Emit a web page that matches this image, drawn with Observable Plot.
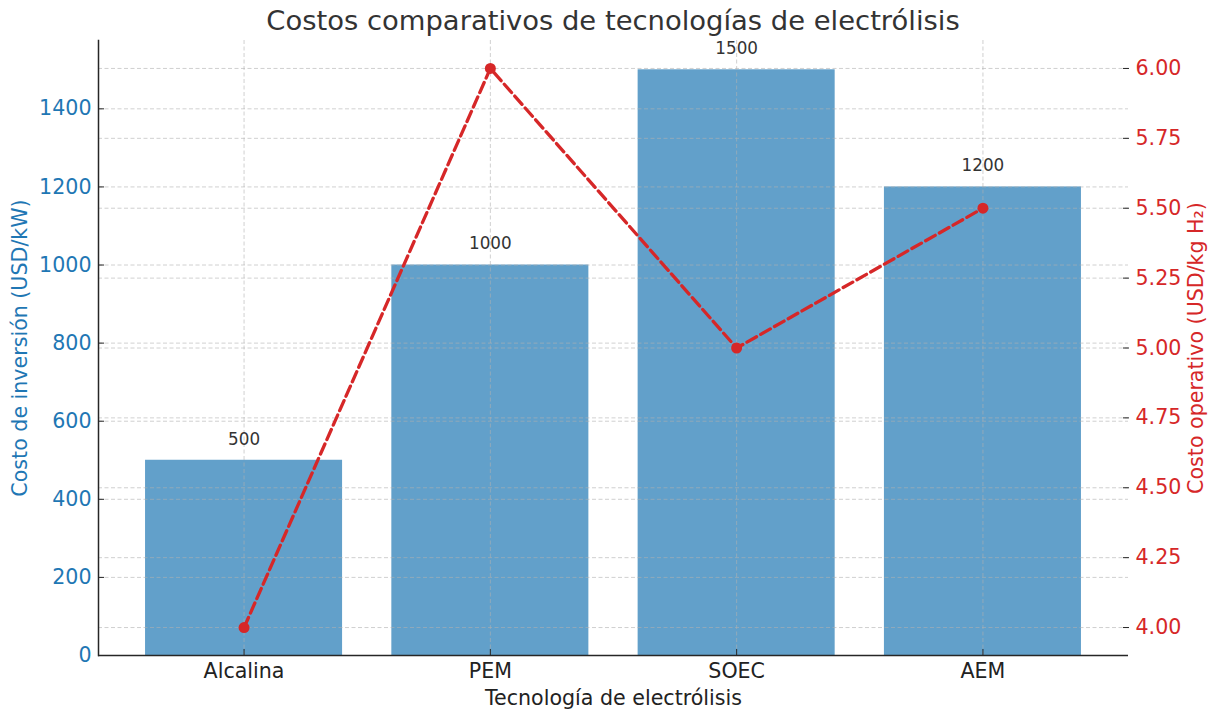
<!DOCTYPE html>
<html><head><meta charset="utf-8">
<script src="https://cdn.jsdelivr.net/npm/d3@7"></script>
<script src="https://cdn.jsdelivr.net/npm/@observablehq/plot@0.6"></script>
<style>
body{margin:0;background:#fff;font-family:"DejaVu Sans",sans-serif;}
#title{height:40px;width:1226px;text-align:center;font-size:27.4px;color:#333;line-height:42px;}
</style></head><body>
<div id="title">Costos comparativos de tecnologías de electrólisis</div>
<div id="chart"></div>
<script>
const categories = ["Alcalina","PEM","SOEC","AEM"];
const investment = [500,1000,1500,1200];
const opCost = [4.0,6.0,5.0,5.5];
const leftTicks = [0,200,400,600,800,1000,1200,1400];
const rightTicks = [4.0,4.25,4.5,4.75,5.0,5.25,5.5,5.75,6.0];
const yMax = 1575, rMin = 3.9, rMax = 6.1;
const toY = v => (v - rMin) / (rMax - rMin) * yMax;
const fromY = y => y / yMax * (rMax - rMin) + rMin;
const rows = categories.map((c, i) => ({cat: c, inv: investment[i], op: opCost[i]}));
const gridStyle = {stroke: "#b0b0b0", strokeOpacity: 0.6, strokeWidth: 1, strokeDasharray: "4,2.5"};
const fs = 20.6;

const chart = Plot.plot({
  width: 1213, height: 670,
  marginTop: 0, marginBottom: 55, marginLeft: 98, marginRight: 85,
  style: {fontFamily: "DejaVu Sans", background: "#fff", overflow: "visible"},
  x: {domain: categories, paddingInner: 0.2, paddingOuter: 0.191, round: false, axis: null},
  y: {domain: [0, yMax], axis: null},
  marks: [
    Plot.barY(rows, {x: "cat", y: "inv", fill: "#62a0ca"}),
    Plot.gridX(categories, gridStyle),
    Plot.gridY(leftTicks, gridStyle),
    Plot.gridY(rightTicks.map(toY), gridStyle),
    Plot.frame({anchor: "left", stroke: "#262626", strokeWidth: 1.5}),
    Plot.ruleY([0], {stroke: "#262626", strokeWidth: 1.5}),
    Plot.axisY(leftTicks, {anchor: "left", tickSize: -6, tickPadding: 13, fontSize: fs, stroke: "#262626", fill: "#1f77b4", label: null, tickFormat: d => String(d)}),
    Plot.axisY(rightTicks.map(toY), {anchor: "right", tickSize: -6, tickPadding: 13, fontSize: fs, stroke: "#262626", fill: "#d62728", label: null, tickFormat: d => fromY(d).toFixed(2)}),
    Plot.axisX(categories, {anchor: "bottom", tickSize: -6, tickPadding: 14, fontSize: fs, stroke: "#262626", fill: "#222", label: null}),
    Plot.line(rows, {x: "cat", y: d => toY(d.op), stroke: "#d62728", strokeWidth: 3.3, strokeDasharray: "11,4.8"}),
    Plot.dot(rows, {x: "cat", y: d => toY(d.op), r: 5.5, fill: "#d62728"}),
    Plot.text(rows, {x: "cat", y: "inv", text: d => String(d.inv), dy: -21, fontSize: 16.8, fill: "#333"}),
    Plot.text(["Costo de inversión (USD/kW)"], {frameAnchor: "left", textAnchor: "middle", lineAnchor: "middle", dx: -78, rotate: -90, fontSize: fs, fill: "#1f77b4"}),
    Plot.text(["Costo operativo (USD/kg H₂)"], {frameAnchor: "right", textAnchor: "middle", lineAnchor: "middle", dx: 68, rotate: -90, fontSize: fs, fill: "#d62728"}),
    Plot.text(["Tecnología de electrólisis"], {frameAnchor: "bottom", textAnchor: "middle", lineAnchor: "middle", dy: 43, fontSize: fs, fill: "#222"})
  ]
});
document.getElementById("chart").appendChild(chart);
</script>
</body></html>
